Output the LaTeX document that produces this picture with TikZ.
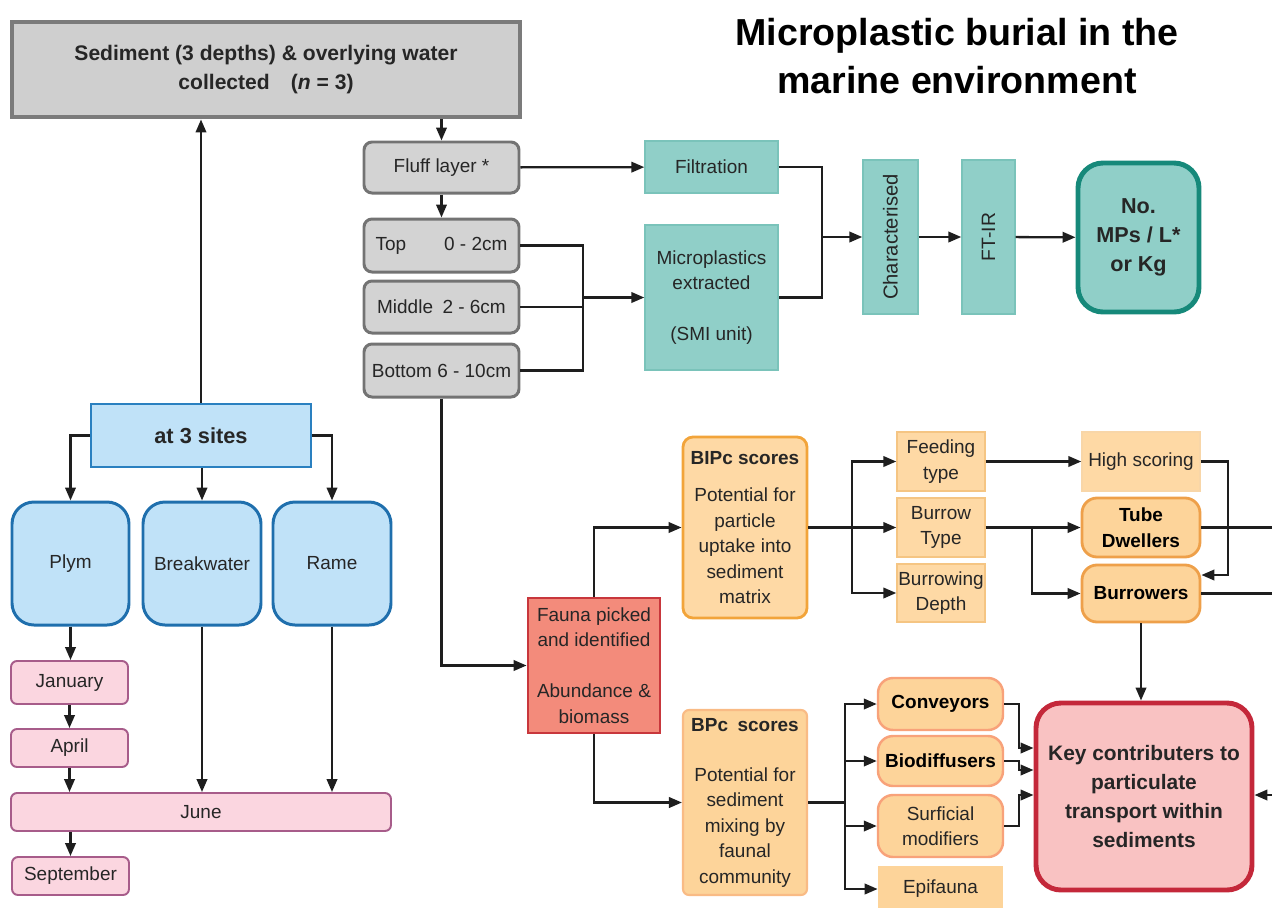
\documentclass[tikz,border=0pt]{standalone}
\usepackage{fontspec}
\setmainfont{Liberation Sans}
\usetikzlibrary{arrows.meta}
\definecolor{txt}{HTML}{262626}
\definecolor{lin}{HTML}{1E1E1E}
\definecolor{grayf}{HTML}{D3D3D3}
\definecolor{grayb}{HTML}{737373}
\definecolor{sedf}{HTML}{CFCFCF}
\definecolor{sedb}{HTML}{7B7B7B}
\definecolor{tealf}{HTML}{90CFC8}
\definecolor{tealb}{HTML}{7AC3BA}
\definecolor{numb}{HTML}{16897A}
\definecolor{bluef}{HTML}{C0E2F8}
\definecolor{blueb}{HTML}{1F6FAD}
\definecolor{sitesb}{HTML}{2A80C0}
\definecolor{pinkf}{HTML}{FBD6E0}
\definecolor{pinkb}{HTML}{A75C8A}
\definecolor{faunaf}{HTML}{F38B7B}
\definecolor{faunab}{HTML}{C8373C}
\definecolor{orf}{HTML}{FED9A5}
\definecolor{orb}{HTML}{F2A43A}
\definecolor{ltorb}{HTML}{F5C583}
\definecolor{tubef}{HTML}{FDD49A}
\definecolor{tubeb}{HTML}{EEA04A}
\definecolor{convb}{HTML}{F8A27A}
\definecolor{bpcb}{HTML}{F9BB85}
\definecolor{keyf}{HTML}{F9C2C2}
\definecolor{keyb}{HTML}{C4283A}
\newcommand\nfnt{\fontsize{10.8}{14.5}\selectfont}
\newcommand\bfnt{\fontsize{10.8}{14.5}\selectfont\bfseries}
\newcommand\bbig{\fontsize{12}{16.4}\selectfont\bfseries}
\newcommand\ttlfnt{\fontsize{21.4}{27.2}\selectfont\bfseries}
\tikzset{
 R/.style args={#1/#2/#3/#4}{at={({(#1+#3)/2},{(#2+#4)/2})}, minimum width={(#3-#1)*0.02cm}, minimum height={(#4-#2)*0.02cm}},
 base/.style={inner sep=0pt, align=center, font=\nfnt, text=txt},
 graybox/.style={base, draw=grayb, fill=grayf, line width=1.7pt, rounded corners=0.16cm},
 tealbox/.style={base, draw=tealb, fill=tealf, line width=0.8pt},
 bluebox/.style={base, draw=blueb, fill=bluef, line width=1.7pt, rounded corners=0.44cm},
 pinkbox/.style={base, draw=pinkb, fill=pinkf, line width=1.1pt, rounded corners=0.12cm},
 ltorbox/.style={base, draw=ltorb, fill=orf, line width=0.8pt},
 tubebox/.style={base, draw=tubeb, fill=tubef, line width=1.6pt, rounded corners=0.3cm, font=\bfnt, text=black},
 convbox/.style={base, draw=convb, fill=tubef, line width=1.4pt, rounded corners=0.3cm},
 arr/.style={line width=1.3pt, draw=lin, -{Triangle[length=0.26cm,width=0.21cm]}},
 ln/.style={line width=1.3pt, draw=lin},
}
\begin{document}
\begin{tikzpicture}[x=0.02cm,y=-0.02cm]
\useasboundingbox (0,0) rectangle (1272,907);
% title
\node[font=\ttlfnt, align=center, text=black] (title) at (957,56) {Microplastic burial in the\\marine environment};
% top part
\node[base, draw=sedb, fill=sedf, line width=2.8pt, font=\bbig, text=black!85, R=12/22/520/117] (sed) {Sediment (3 depths) \& overlying water\\collected\quad (\textit{n} = 3)};
\node[graybox, R=364/142/519/193] (fluff) {Fluff layer *};
\node[graybox, R=364/219/519/272] (top) {Top\qquad 0 - 2cm};
\node[graybox, R=364/281/519/333] (mid) {Middle\enspace 2 - 6cm};
\node[graybox, R=364/344/519/397] (bot) {Bottom 6 - 10cm};
\node[tealbox, R=645/141/778/193] (filt) {Filtration};
\node[tealbox, R=645/225/778/370] (mpx) {Microplastics\\extracted\\[14.5pt](SMI unit)};
\node[tealbox, rotate=90, minimum width=3.08cm, minimum height=1.1cm, font=\fontsize{11.5}{14}\selectfont] (char) at (890.5,237) {Characterised};
\node[tealbox, rotate=90, minimum width=3.08cm, minimum height=1.06cm, font=\fontsize{11}{14}\selectfont] (ftir) at (988.5,237) {FT-IR};
\node[base, draw=numb, fill=tealf, line width=2.8pt, rounded corners=0.5cm, font=\fontsize{12.3}{16.4}\selectfont\bfseries, text=black!85, R=1078/163/1199/312] (num) {No.\\MPs / L*\\or Kg};
% sites
\node[base, draw=sitesb, fill=bluef, line width=1.5pt, font=\fontsize{12.4}{15}\selectfont\bfseries, text=black!85, R=91/404/311/467] (sites) {at 3 sites};
\node[bluebox, R=12/502/129/625] (plym) {Plym};
\node[bluebox, R=143/502/261/625] (brk) {Breakwater};
\node[bluebox, R=273/502/391/625] (rame) {Rame};
\node[pinkbox, R=11/661/128/704] (jan) {January};
\node[pinkbox, R=11/729/128/767] (apr) {April};
\node[pinkbox, R=11/793/391/831] (jun) {June};
\node[pinkbox, R=12/857/129/895] (sep) {September};
% fauna
\node[base, draw=faunab, fill=faunaf, line width=1.6pt, R=528/598/660/733] (fauna) {Fauna picked\\and identified\\[14.5pt]Abundance \&\\biomass};
\node[base, draw=orb, fill=orf, line width=1.6pt, rounded corners=0.2cm, R=683/437/807/618] (bipc) {\textbf{\color{black!85}BIPc scores}\\[7pt]Potential for\\particle\\uptake into\\sediment\\matrix};
\node[ltorbox, R=897/432/985/491] (feed) {Feeding\\type};
\node[ltorbox, R=897/498/985/557] (btype) {Burrow\\Type};
\node[ltorbox, R=897/564/985/622] (bdepth) {Burrowing\\Depth};
\node[ltorbox, draw=ltorb!70!white, R=1082/432/1200/491] (high) {High scoring};
\node[tubebox, R=1082/498/1200/557] (tube) {Tube\\Dwellers};
\node[tubebox, R=1082/565/1200/622] (burr) {Burrowers};
\node[base, draw=bpcb, fill=tubef, line width=1.2pt, rounded corners=0.12cm, R=683/710/807/895] (bpc) {\textbf{\color{black!85}BPc\enspace scores}\\[14pt]Potential for\\sediment\\mixing by\\faunal\\community};
\node[convbox, font=\bfnt, text=black, R=878/678/1003/730] (conv) {Conveyors};
\node[convbox, font=\bfnt, text=black, R=878/736/1003/786] (biod) {Biodiffusers};
\node[convbox, R=878/795/1003/857] (surf) {Surficial\\modifiers};
\node[base, fill=tubef, R=878/866/1003/912] (epi) {Epifauna};
\node[base, draw=keyb, fill=keyf, line width=2.8pt, rounded corners=0.5cm, font=\fontsize{11.9}{16.6}\selectfont\bfseries, text=black!85, R=1036/703/1252/890] (key) {Key contributers to\\particulate\\transport within\\sediments};
% coordinates
\coordinate (j1) at (583,297.5);
\coordinate (j2) at (822,237);
\coordinate (j3) at (852,527.5);
\coordinate (j4) at (1032,527.5);
\coordinate (j5) at (1228,575);
\coordinate (j6) at (845,802.5);
\coordinate (k1) at (1019,748);
\coordinate (k2) at (1019,770);
\coordinate (k3) at (1019,795);
\coordinate (o1) at (1272,527.5);
\coordinate (o2) at (1272,593.5);
\coordinate (o3) at (1272,795);
% connectors top
\draw[arr] (sites.north) -- (sites.north |- sed.south);
\draw[arr] (sed.south -| fluff) -- (fluff.north);
\draw[arr] (fluff.south) -- (top.north);
\draw[arr] (fluff) -- (filt);
\draw[ln] (top.east) -| (j1) |- (bot.east);
\draw[ln] (mid.east) -- (mid.east -| j1);
\draw[arr] (j1) -- (mpx);
\draw[ln] (filt.east) -| (j2) |- (mpx.east);
\draw[arr] (j2) -- (char);
\draw[arr] (char) -- (ftir);
\draw[arr] (ftir) -- (num);
% sites
\draw[arr] (sites.west) -| (plym.north);
\draw[arr] (sites.east) -| (rame.north);
\draw[arr] (sites.south -| brk) -- (brk.north);
\draw[arr] (plym.south) -- (plym.south |- jan.north);
\draw[arr] (jan.south) -- (apr.north);
\draw[arr] (apr.south) -- (apr.south |- jun.north);
\draw[arr] (brk.south) -- (brk.south |- jun.north);
\draw[arr] (rame.south) -- (rame.south |- jun.north);
\draw[arr] (jun.south -| sep) -- (sep.north);
% fauna
\draw[arr] (bot.south) |- (fauna.west);
\draw[arr] (fauna.north) |- (bipc.west);
\draw[arr] (fauna.south) |- (bpc.west);
\draw[arr] (bipc.east) -- (btype.west);
\draw[arr] (j3) |- (feed.west);
\draw[arr] (j3) |- (bdepth.west);
\draw[arr] (feed) -- (high);
\draw[arr] (btype) -- (tube);
\draw[arr] (j4) |- (burr.west);
\draw[arr] (high.east) -| (j5) -- (j5 -| burr.east);
\draw[ln] (tube.east) -- (o1);
\draw[ln] (burr.east) -- (o2);
\draw[arr] (burr.south) -- (burr.south |- key.north);
\draw[arr] (o3) -- (o3 -| key.east);
\draw[ln] (bpc.east) -- (j6);
\draw[arr] (j6) |- (conv.west);
\draw[arr] (j6) |- (biod.west);
\draw[arr] (j6) |- (surf.west);
\draw[arr] (j6) |- (epi.west);
\draw[arr] (conv.east) -| (k1) -- (k1 -| key.west);
\draw[arr] (biod.east) -| (k2) -- (k2 -| key.west);
\draw[arr] (surf.east) -| (k3) -- (k3 -| key.west);
\end{tikzpicture}
\end{document}
